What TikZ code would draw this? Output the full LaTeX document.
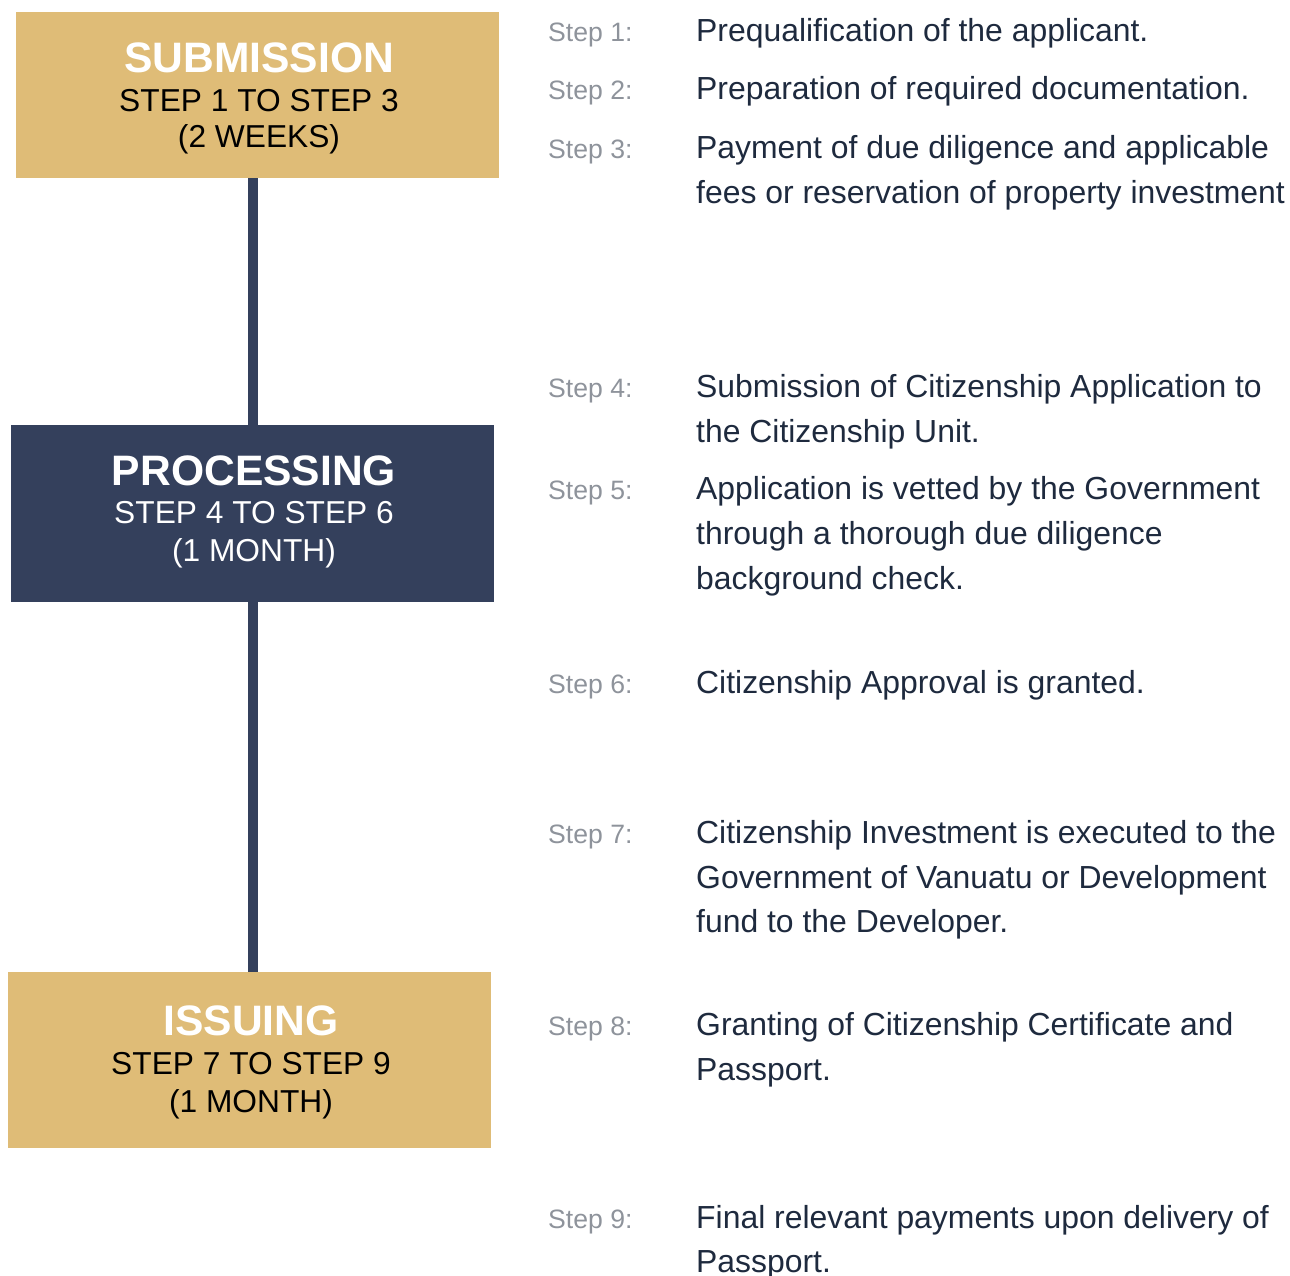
\documentclass[tikz,border=0pt]{standalone}
\usepackage{fontspec}
\setmainfont{Liberation Sans}
\definecolor{gold}{HTML}{DFBC77}
\definecolor{navy}{HTML}{34405C}
\definecolor{desc}{HTML}{1E2A3E}
\definecolor{lab}{HTML}{8E939B}
\begin{document}
\begin{tikzpicture}[x=1pt,y=-1pt,
  phasebox/.style={rectangle,inner sep=0pt,minimum width=483pt},
  ttl/.style={anchor=base,inner sep=0pt,text=white,font=\fontsize{42.6}{42.6}\selectfont\bfseries},
  sub/.style={anchor=base,inner sep=0pt,font=\fontsize{31.7}{31.7}\selectfont},
  lbl/.style={anchor=base west,inner sep=0pt,text=lab,font=\fontsize{26.6}{26.6}\selectfont},
  dsc/.style={anchor=base west,inner sep=0pt,text=desc,font=\fontsize{31.9}{31.9}\selectfont},
  link/.style={draw=navy,line width=10pt}]
\useasboundingbox (0,0) rectangle (1290,1276);
% boxes
\node[phasebox,fill=gold,minimum height=166pt] (b1) at (257.5,95) {};
\node[phasebox,fill=navy,minimum height=177pt] (b2) at (252.5,513.5) {};
\node[phasebox,fill=gold,minimum height=176pt] (b3) at (249.5,1060) {};
\coordinate (lx) at (253,0);
\draw[link] (b1.south -| lx) -- (b2.north -| lx);
\draw[link] (b2.south -| lx) -- (b3.north -| lx);
% box texts
\node[ttl] (t1) at (259,73) {SUBMISSION};
\node[sub,text=black] (t1b) at (259,112) {STEP 1 TO STEP 3};
\node[sub,text=black] (t1c) at (259,148) {(2 WEEKS)};
\node[ttl] (t2) at (254,485) {PROCESSING};
\node[sub,text=white] (t2b) at (254,523) {STEP 4 TO STEP 6};
\node[sub,text=white] (t2c) at (254,561) {(1 MONTH)};
\node[ttl] (t3) at (251,1035) {ISSUING};
\node[sub,text=black] (t3b) at (251,1074) {STEP 7 TO STEP 9};
\node[sub,text=black] (t3c) at (251,1112) {(1 MONTH)};
% steps
\node[lbl] (l1) at (548,42) {Step 1:};
\node[dsc] (d1) at (696,42) {Prequalification of the applicant.};
\node[lbl] (l2) at (548,100) {Step 2:};
\node[dsc] (d2) at (696,100) {Preparation of required documentation.};
\node[lbl] (l3) at (548,159) {Step 3:};
\node[dsc] (d3a) at (696,159) {Payment of due diligence and applicable};
\node[dsc] (d3b) at (696,204) {fees or reservation of property investment};
\node[lbl] (l4) at (548,397) {Step 4:};
\node[dsc] (d4a) at (696,397) {Submission of Citizenship Application to};
\node[dsc] (d4b) at (696,442) {the Citizenship Unit.};
\node[lbl] (l5) at (548,499) {Step 5:};
\node[dsc] (d5a) at (696,499) {Application is vetted by the Government};
\node[dsc] (d5b) at (696,544) {through a thorough due diligence};
\node[dsc] (d5c) at (696,589) {background check.};
\node[lbl] (l6) at (548,693) {Step 6:};
\node[dsc] (d6) at (696,693) {Citizenship Approval is granted.};
\node[lbl] (l7) at (548,843) {Step 7:};
\node[dsc] (d7a) at (696,843) {Citizenship Investment is executed to the};
\node[dsc] (d7b) at (696,888) {Government of Vanuatu or Development};
\node[dsc] (d7c) at (696,932) {fund to the Developer.};
\node[lbl] (l8) at (548,1035) {Step 8:};
\node[dsc] (d8a) at (696,1035) {Granting of Citizenship Certificate and};
\node[dsc] (d8b) at (696,1080) {Passport.};
\node[lbl] (l9) at (548,1228) {Step 9:};
\node[dsc] (d9a) at (696,1228) {Final relevant payments upon delivery of};
\node[dsc] (d9b) at (696,1272) {Passport.};
\end{tikzpicture}
\end{document}
